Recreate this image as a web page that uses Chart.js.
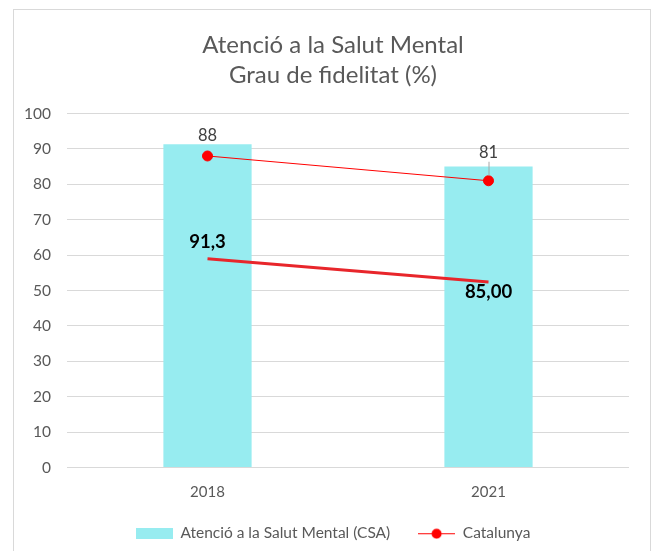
<!DOCTYPE html>
<html>
<head>
<meta charset="utf-8">
<script src="https://cdn.jsdelivr.net/npm/chart.js@4"></script>
<style>
  html, body { margin: 0; padding: 0; background: #fff; }
  #frame { position: absolute; left: 13px; top: 9px; width: 636px; height: 560px; border: 1px solid #d9d9d9; }
  #wrap { position: absolute; left: 0; top: 0; width: 657px; height: 551px; }
</style>
</head>
<body>
<div id="frame"></div>
<div id="wrap"><canvas id="fidelitatChart"></canvas></div>
<script>
// Dades
const years = ['2018', '2021'];
const csaValues = [91.3, 85.00];
const csaLabels = ['91,3', '85,00'];
const catalunyaValues = [88, 81];
const catalunyaLabels = ['88', '81'];
const trendLine = [59, 52.4];
const barLabelAt = [63.7, 49.6];

const FONT = 'Lato, "Open Sans", sans-serif';
const GREY = '#595959';

// petites mostres de llegenda
function makeSwatch(w, h, draw) {
  const c = document.createElement('canvas');
  c.width = w; c.height = h;
  draw(c.getContext('2d'));
  return c;
}
const barSwatch = makeSwatch(37, 11, ctx => { ctx.fillStyle = '#97ecf0'; ctx.fillRect(0, 0, 37, 11); });
const lineSwatch = makeSwatch(37, 12, ctx => {
  ctx.strokeStyle = '#ff0000'; ctx.lineWidth = 1;
  ctx.beginPath(); ctx.moveTo(0, 6.5); ctx.lineTo(37, 6.5); ctx.stroke();
  ctx.fillStyle = '#ff0000';
  ctx.beginPath(); ctx.arc(18.5, 6.5, 5, 0, Math.PI * 2); ctx.fill();
});

const valueLabels = {
  id: 'valueLabels',
  afterLayout(chart) {
    // deixa que les etiquetes de l'eix Y surtin cap al marge esquerre
    chart.scales.y.left = 0;
  },
  afterDatasetsDraw(chart) {
    const ctx = chart.ctx;
    const x = chart.scales.x, y = chart.scales.y;
    ctx.save();
    ctx.textAlign = 'center';
    ctx.textBaseline = 'middle';
    // etiquetes de les barres
    ctx.font = 'bold 18.5px ' + FONT;
    ctx.fillStyle = '#000';
    csaLabels.forEach((t, i) => ctx.fillText(t, x.getPixelForValue(i), y.getPixelForValue(barLabelAt[i])));
    // etiquetes de Catalunya
    ctx.font = '16.5px ' + FONT;
    ctx.fillStyle = '#404040';
    const lift = [20, 28];
    catalunyaLabels.forEach((t, i) => {
      const px = x.getPixelForValue(i), py = y.getPixelForValue(catalunyaValues[i]);
      ctx.fillText(t, px, py - lift[i]);
      if (lift[i] > 24) {
        ctx.strokeStyle = '#a6a6a6'; ctx.lineWidth = 1;
        ctx.beginPath(); ctx.moveTo(px + 0.5, py - lift[i] + 9); ctx.lineTo(px + 0.5, py - 5); ctx.stroke();
      }
    });
    ctx.restore();
  }
};

const ctx = document.getElementById('fidelitatChart').getContext('2d');
new Chart(ctx, {
  data: {
    labels: years,
    datasets: [
      {
        type: 'bar',
        label: 'Atenció a la Salut Mental (CSA)',
        data: csaValues,
        backgroundColor: '#97ecf0',
        barPercentage: 0.314,
        categoryPercentage: 1,
        order: 3
      },
      {
        type: 'line',
        label: 'Catalunya',
        data: catalunyaValues,
        borderColor: '#ff0000',
        backgroundColor: '#ff0000',
        borderWidth: 1,
        pointRadius: 5,
        pointHoverRadius: 5,
        order: 1
      },
      {
        type: 'line',
        label: 'tendència',
        data: trendLine,
        borderColor: '#e8262b',
        borderWidth: 3,
        pointRadius: 0,
        order: 2
      }
    ]
  },
  options: {
    responsive: true,
    maintainAspectRatio: false,
    animation: false,
    layout: { padding: { left: 37, right: 28, top: 0, bottom: 0 } },
    plugins: {
      tooltip: { enabled: false },
      title: {
        display: true,
        text: ['Atenció a la Salut Mental', 'Grau de fidelitat (%)'],
        color: GREY,
        font: { family: FONT, size: 24, weight: 'normal', lineHeight: 1.25 },
        padding: { top: 30, bottom: 23.5 }
      },
      legend: {
        position: 'bottom',
        labels: {
          color: GREY,
          font: { family: FONT, size: 15.5 },
          usePointStyle: true,
          pointStyleWidth: 37,
          boxHeight: 11,
          padding: 8,
          sort: (a, b) => a.datasetIndex - b.datasetIndex,
          generateLabels(chart) {
            const items = Chart.defaults.plugins.legend.labels.generateLabels(chart);
            return items.filter(i => i.datasetIndex !== 2).map(i => {
              i.pointStyle = i.datasetIndex === 0 ? barSwatch : lineSwatch;
              // espai extra entre les dues entrades
              if (i.datasetIndex === 0) i.text += '     ';
              return i;
            });
          }
        }
      }
    },
    scales: {
      x: {
        grid: { display: false, drawTicks: false },
        border: { display: false },
        ticks: { color: GREY, font: { family: FONT, size: 15 }, padding: 16 }
      },
      y: {
        min: 0,
        max: 100,
        afterFit(scale) { scale.width = 30; },
        grid: { color: '#d9d9d9', drawTicks: false },
        border: { display: false },
        ticks: { stepSize: 10, color: GREY, font: { family: FONT, size: 15.5 }, padding: 16 }
      }
    }
  },
  plugins: [valueLabels]
});
</script>
</body>
</html>
